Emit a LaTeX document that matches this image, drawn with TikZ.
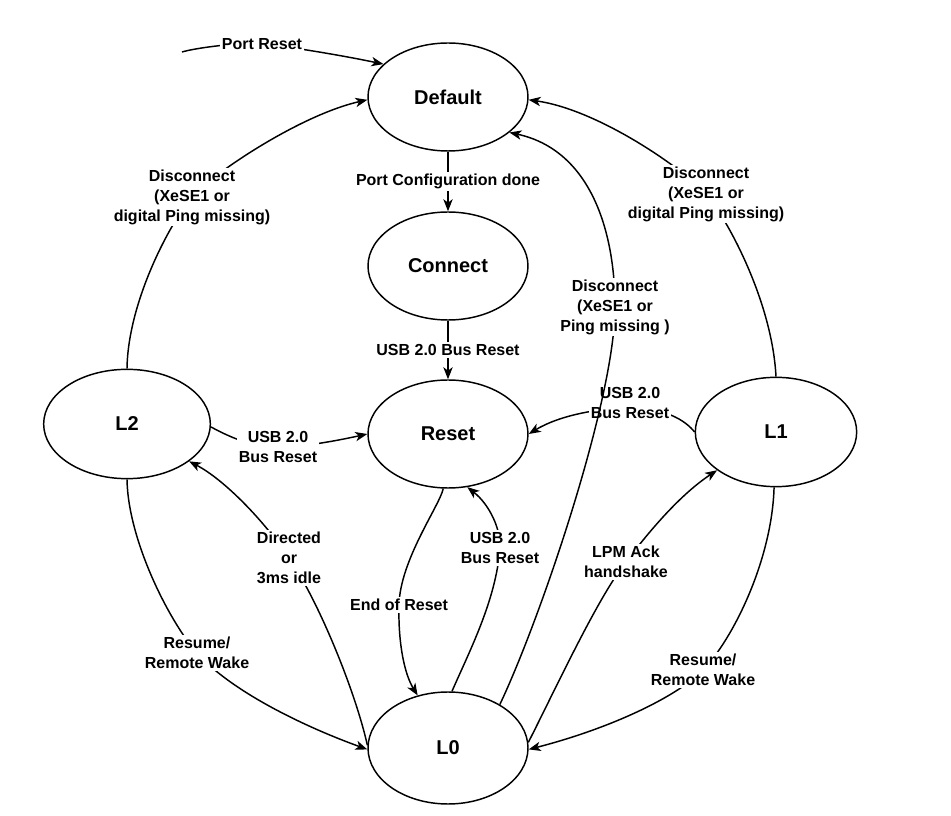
\documentclass[tikz,border=0pt]{standalone}
\usepackage{fontspec}
\setmainfont{Liberation Sans}
\usetikzlibrary{shapes.geometric,arrows.meta}
\begin{document}
\begin{tikzpicture}[x=0.75pt,y=-0.75pt,
  state/.style={ellipse,draw,line width=1.1pt,inner sep=0pt,minimum width=120pt,minimum height=81pt,font=\bfseries\fontsize{15}{18}\selectfont},
  lbl/.style={fill=white,inner sep=1.5pt,align=center,font=\bfseries\fontsize{12}{15}\selectfont},
  arr/.style={line width=1.1pt,-{Stealth[length=9pt,width=7pt,inset=2.5pt]}},
  ln/.style={line width=1.1pt}]
\useasboundingbox (0,0) rectangle (951,816);
\node[state] (def) at (448,97) {Default};
\node[state] (con) at (448,266) {Connect};
\node[state] (res) at (448,434) {Reset};
\node[state,minimum width=125pt,minimum height=82pt] (l2) at (127,424) {L2};
\node[state,minimum width=121pt,minimum height=82pt] (l1) at (776,432) {L1};
\node[state,minimum height=84pt] (l0) at (448,748) {L0};
\coordinate (pr) at (182,52);

% Port Reset
\draw[arr] (pr) .. controls (195,48) and (240,42) .. (262,44) node[lbl]{Port Reset}
  .. controls (285,46) and (340,55) .. (def.153);
% Default -> Connect -> Reset
\draw[arr] (def) -- node[lbl]{Port Configuration done} (con);
\draw[arr] (con) -- node[lbl]{USB 2.0 Bus Reset} (res);
% L2 -> Default
\draw[arr] (l2.north) .. controls (128,300) and (172,220) .. (192,197)
  node[lbl]{Disconnect\\(XeSE1 or\\digital Ping missing)}
  .. controls (212,174) and (300,115) .. (def.182);
% L1 -> Default
\draw[arr] (l1.north) .. controls (772,300) and (726,217) .. (706,194)
  node[lbl]{Disconnect\\(XeSE1 or\\digital Ping missing)}
  .. controls (686,171) and (600,110) .. (def.-2);
% L2 -> Reset
\draw[arr] (l2.-2) .. controls (235,440) and (255,447) .. (278,447)
  node[lbl]{USB 2.0\\Bus Reset}
  .. controls (305,447) and (340,440) .. (res.west);
% L1 -> Reset
\draw[arr] (l1.west) .. controls (685,420) and (665,408) .. (630,408)
  node[lbl,yshift=4pt]{USB 2.0\\Bus Reset}
  .. controls (600,408) and (560,415) .. (res.east);
% L0 -> Default
\draw[arr] (l0.40) .. controls (540,620) and (615,400) .. (615,307)
  node[lbl]{Disconnect\\(XeSE1 or\\Ping missing )}
  .. controls (615,230) and (590,150) .. (def.-30);
% Reset -> L0
\draw[arr] (res.-95) .. controls (440,505) and (400,560) .. (399,605)
  node[lbl]{End of Reset}
  .. controls (398,645) and (405,675) .. (l0.120);
% L0 -> Reset
\draw[arr] (l0.86) .. controls (470,650) and (496,600) .. (500,548)
  node[lbl]{USB 2.0\\Bus Reset}
  .. controls (501,530) and (490,505) .. (res.-70);
% L0 -> L2
\draw[arr] (l0.178) .. controls (355,690) and (318,600) .. (289,558)
  node[lbl]{Directed\\or\\3ms idle}
  .. controls (265,522) and (225,480) .. (l2.-31);
% L2 -> L0
\draw[arr] (l2.south) .. controls (128,540) and (169,621) .. (197,653)
  node[lbl]{Resume/\\Remote Wake}
  .. controls (230,690) and (300,725) .. (l0.181);
% L1 -> L0
\draw[arr] (l1.-92) .. controls (772,560) and (733,639) .. (703,670)
  node[lbl]{Resume/\\Remote Wake}
  .. controls (678,696) and (612,728) .. (l0.-1);
% L0 -> L1
\draw[arr] (l0.4) .. controls (555,690) and (598,597) .. (626,562)
  node[lbl]{LPM Ack\\handshake}
  .. controls (650,530) and (681,494) .. (l1.213);
\end{tikzpicture}
\end{document}
